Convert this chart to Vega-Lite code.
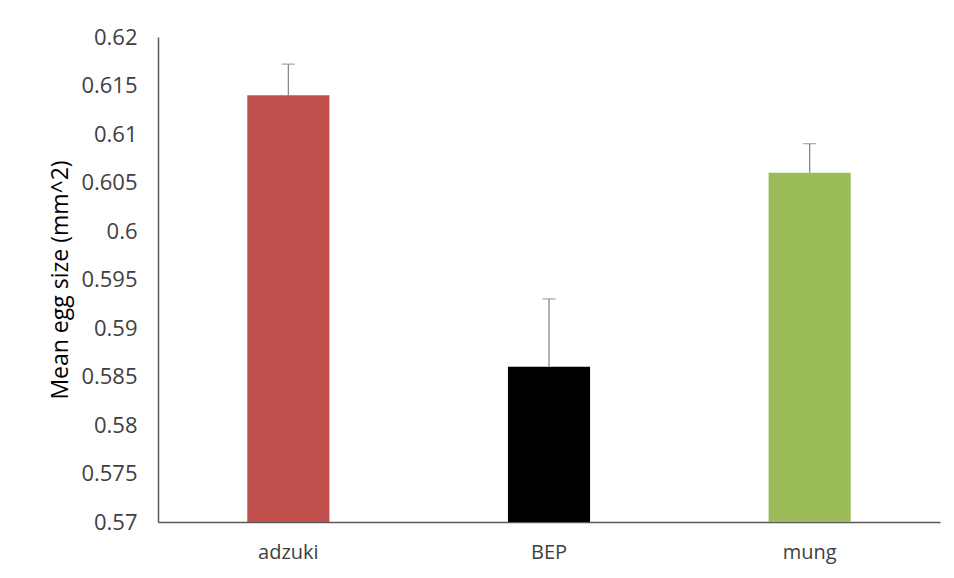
{
  "$schema": "https://vega.github.io/schema/vega-lite/v6.json",
  "width": 782,
  "height": 485,
  "autosize": {"type": "none"},
  "padding": {"left": 158, "top": 37, "right": 14, "bottom": 56},
  "background": "white",
  "config": {
    "font": "Open Sans",
    "view": {"stroke": null}
  },
  "data": {
    "values": [
      {"bean": "adzuki", "mean": 0.614, "upper": 0.6172},
      {"bean": "BEP", "mean": 0.586, "upper": 0.593},
      {"bean": "mung", "mean": 0.606, "upper": 0.609}
    ]
  },
  "encoding": {
    "x": {
      "field": "bean",
      "type": "nominal",
      "sort": null,
      "scale": {"paddingInner": 0.685, "paddingOuter": 0.3425},
      "axis": {
        "title": null,
        "labelAngle": 0,
        "ticks": false,
        "labelFontSize": 20,
        "labelColor": "#404040",
        "labelPadding": 20,
        "domainColor": "#595959",
        "domainWidth": 1.5
      }
    }
  },
  "layer": [
    {
      "mark": {"type": "bar", "clip": true},
      "encoding": {
        "y": {
          "field": "mean",
          "type": "quantitative",
          "scale": {"domain": [0.57, 0.62], "nice": false, "zero": false},
          "axis": {
            "title": "Mean egg size (mm^2)",
            "titleFontSize": 23,
            "titleFontWeight": "normal",
            "titleColor": "#000000",
            "titlePadding": 8,
            "values": [0.57, 0.575, 0.58, 0.585, 0.59, 0.595, 0.6, 0.605, 0.61, 0.615, 0.62],
            "format": ".3~f",
            "grid": false,
            "ticks": false,
            "labelFontSize": 22,
            "labelColor": "#404040",
            "labelPadding": 21,
            "domainColor": "#595959",
            "domainWidth": 1.5
          }
        },
        "y2": {"datum": 0.57},
        "color": {
          "field": "bean",
          "type": "nominal",
          "scale": {"domain": ["adzuki", "BEP", "mung"], "range": ["#C0504D", "#000000", "#9BBB59"]},
          "legend": null
        }
      }
    },
    {
      "mark": {"type": "rule", "color": "#808080", "strokeWidth": 1.2},
      "encoding": {
        "y": {"field": "mean", "type": "quantitative"},
        "y2": {"field": "upper"}
      }
    },
    {
      "mark": {"type": "tick", "color": "#808080", "size": 13, "thickness": 1.2},
      "encoding": {
        "y": {"field": "upper", "type": "quantitative"}
      }
    }
  ]
}
